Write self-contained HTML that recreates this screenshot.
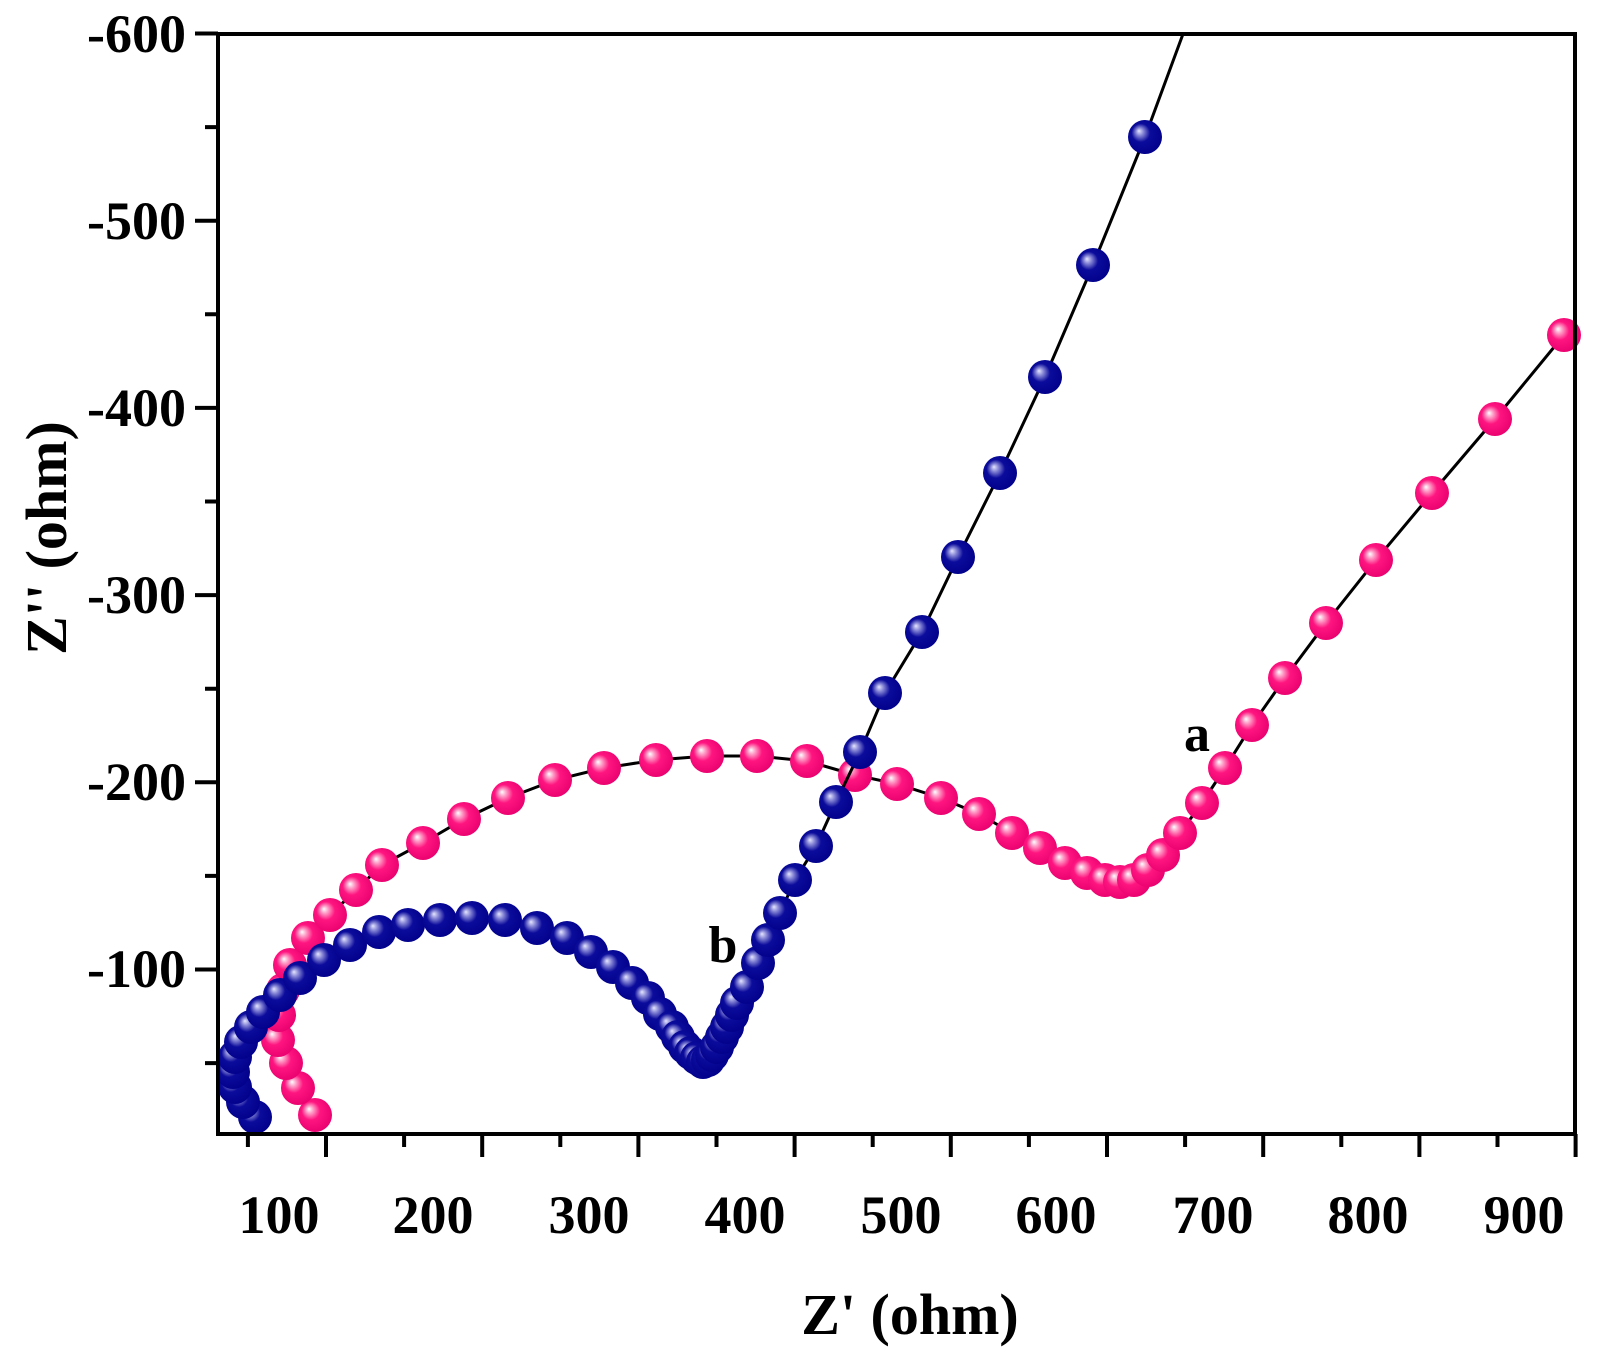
<!DOCTYPE html>
<html><head><meta charset="utf-8"><style>
html,body{margin:0;padding:0;background:#fff;}
svg{display:block;}
text{font-family:"Liberation Serif",serif;font-weight:bold;fill:#000;}
</style></head><body>
<svg width="1606" height="1362" viewBox="0 0 1606 1362" xmlns="http://www.w3.org/2000/svg">
<defs>
<radialGradient id="gp" cx="0.45" cy="0.45" r="0.6" fx="0.32" fy="0.32">
<stop offset="0" stop-color="#ffffff"/><stop offset="0.18" stop-color="#ff9cc6"/><stop offset="0.45" stop-color="#ff1580"/><stop offset="1" stop-color="#e8006e"/>
</radialGradient>
<radialGradient id="gb" cx="0.45" cy="0.45" r="0.6" fx="0.32" fy="0.32">
<stop offset="0" stop-color="#e6e6ff"/><stop offset="0.18" stop-color="#8a8ad8"/><stop offset="0.45" stop-color="#0c0c9c"/><stop offset="1" stop-color="#00008a"/>
</radialGradient>
</defs>
<g id="plot"></g>
<rect x="218" y="34" width="1357" height="1100" fill="none" stroke="#000" stroke-width="4"/>
<g id="ticks" stroke="#000" stroke-width="4"></g>
<g font-size="54" text-anchor="end">
<text x="186" y="52">-600</text><text x="186" y="239">-500</text><text x="186" y="426">-400</text>
<text x="186" y="613">-300</text><text x="186" y="800">-200</text><text x="186" y="987">-100</text>
</g>
<g font-size="54" text-anchor="middle">
<text x="279" y="1233">100</text><text x="433" y="1233">200</text><text x="589" y="1233">300</text>
<text x="745" y="1233">400</text><text x="901" y="1233">500</text><text x="1056" y="1233">600</text>
<text x="1213" y="1233">700</text><text x="1368" y="1233">800</text><text x="1524" y="1233">900</text>
</g>
<text x="910" y="1334" font-size="58" text-anchor="middle">Z' (ohm)</text>
<text transform="translate(66,538) rotate(-90)" font-size="58" text-anchor="middle">Z'' (ohm)</text>
<text x="1197" y="751" font-size="52" text-anchor="middle">a</text>
<text x="723" y="962" font-size="52" text-anchor="middle">b</text>
<script>
var P=[[315,1115],[298,1088],[286,1063],[278,1040],[279,1015],[283,990],[290,965],[308,938],[330,915],[356,890],[382,865],[423,843],[464,819],[508,798],[555,780],[604,768],[656,760],[707,756],[757,756],[807,761],[855,775],[897,784],[941,798],[979,814],[1012,833],[1040,848],[1065,863],[1087,873],[1105,880],[1120,882],[1134,880],[1148,870],[1163,855],[1180,833],[1202,803],[1225,768],[1252,725],[1285,678],[1326,623],[1376,560],[1432,493],[1495,419],[1564,335]];
var B=[[255,1117],[243,1102],[235,1087],[233,1072],[235,1057],[241,1042],[251,1027],[263,1012],[280,995],[300,978],[324,960],[350,945],[379,932],[408,925],[440,920],[472,918],[505,920],[537,928],[567,938],[591,952],[613,967],[632,983],[648,998],[660,1014],[672,1027],[678,1037],[685,1047],[691,1053],[697,1058],[703,1062],[708,1060],[712,1055],[717,1047],[722,1037],[727,1027],[732,1015],[737,1003],[747,987],[758,963],[768,940],[780,913],[795,880],[816,846],[836,802],[860,752],[885,693],[922,632],[958,557],[1000,473],[1045,377],[1093,265],[1145,137]];
var ns="http://www.w3.org/2000/svg",g=document.getElementById("plot");
function line(pts,end){var d="M"+pts.map(function(p){return p.join(",")}).join(" L")+" L"+end.join(",");
var e=document.createElementNS(ns,"path");e.setAttribute("d",d);e.setAttribute("fill","none");e.setAttribute("stroke","#000");e.setAttribute("stroke-width","3");g.appendChild(e);}
function dots(pts,f){pts.forEach(function(p){var c=document.createElementNS(ns,"circle");c.setAttribute("cx",p[0]);c.setAttribute("cy",p[1]);c.setAttribute("r",17);c.setAttribute("fill","url(#"+f+")");g.appendChild(c);});}
line(P,[1575,321]);dots(P,"gp");line(B,[1183,34]);dots(B,"gb");
var t=document.getElementById("ticks"),s="";
for(var k=0;k<6;k++){var y=33.5+187.2*k;s+="M195,"+y+" L218,"+y+" ";var ym=y+93.6;s+="M205,"+ym+" L218,"+ym+" ";}
for(var k=0;k<9;k++){var x=326+156.2*k;s+="M"+x+",1134 L"+x+",1157 ";var xm=x-78.1;s+="M"+xm+",1134 L"+xm+",1147 ";}
var e=document.createElementNS(ns,"path");e.setAttribute("d",s);t.appendChild(e);
</script>
</svg>
</body></html>
